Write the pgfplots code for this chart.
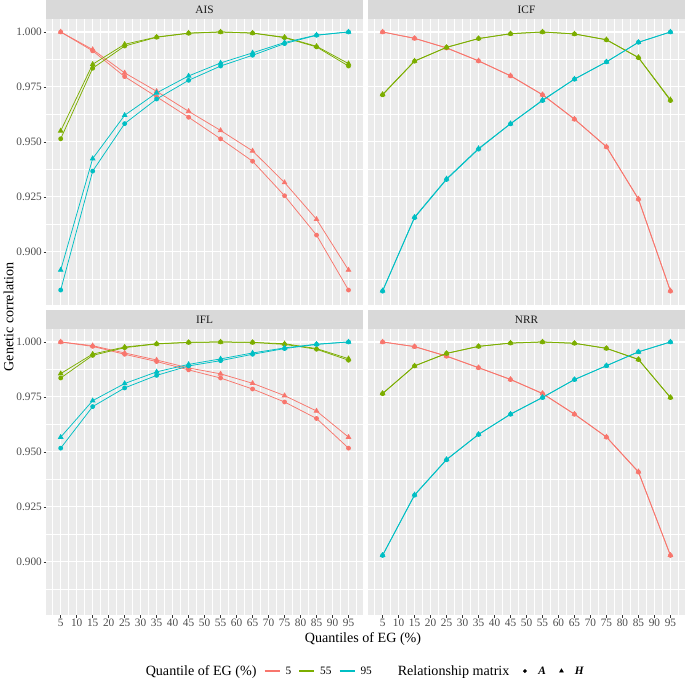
\documentclass[border=0pt]{standalone}
\usepackage{pgfplots}
\pgfplotsset{compat=1.18}
\usepackage{pgfplotstable}
\usepackage{fontspec}
\setmainfont{Liberation Serif}

\definecolor{redq}{HTML}{F8766D}
\definecolor{greenq}{HTML}{7CAE00}
\definecolor{cyanq}{HTML}{00BFC4}
\definecolor{panelbg}{HTML}{EBEBEB}
\definecolor{stripbg}{HTML}{D9D9D9}
\definecolor{striptext}{HTML}{1A1A1A}
\definecolor{tickcol}{HTML}{333333}
\definecolor{ticklab}{HTML}{4D4D4D}

\pgfplotstableread{
q  rA     rH     gA     gH     cA     cH
5  1.0000 1.0000 0.9514 0.9550 0.8826 0.8917
15 0.9914 0.9920 0.9835 0.9853 0.9367 0.9424
25 0.9797 0.9814 0.9936 0.9944 0.9583 0.9621
35 0.9705 0.9730 0.9976 0.9977 0.9695 0.9723
45 0.9612 0.9639 0.9994 0.9995 0.9780 0.9800
55 0.9514 0.9552 1.0000 1.0000 0.9845 0.9859
65 0.9412 0.9459 0.9995 0.9995 0.9894 0.9905
75 0.9255 0.9315 0.9974 0.9976 0.9947 0.9952
85 0.9076 0.9148 0.9932 0.9935 0.9985 0.9986
95 0.8826 0.8917 0.9845 0.9856 1.0000 1.0000
}\AIS

\pgfplotstableread{
q  rA     rH     gA     gH     cA     cH
5  1.0000 1.0000 0.9714 0.9716 0.8821 0.8823
15 0.9971 0.9971 0.9867 0.9868 0.9155 0.9158
25 0.9927 0.9928 0.9930 0.9930 0.9329 0.9332
35 0.9868 0.9869 0.9970 0.9970 0.9467 0.9470
45 0.9800 0.9801 0.9992 0.9992 0.9582 0.9583
55 0.9714 0.9715 1.0000 1.0000 0.9688 0.9690
65 0.9603 0.9604 0.9991 0.9991 0.9785 0.9786
75 0.9477 0.9478 0.9964 0.9965 0.9864 0.9864
85 0.9239 0.9241 0.9883 0.9884 0.9953 0.9953
95 0.8821 0.8823 0.9688 0.9692 1.0000 1.0000
}\ICF

\pgfplotstableread{
q  rA     rH     gA     gH     cA     cH
5  1.0000 1.0000 0.9836 0.9856 0.9517 0.9567
15 0.9980 0.9983 0.9939 0.9945 0.9706 0.9733
25 0.9944 0.9950 0.9974 0.9977 0.9791 0.9811
35 0.9911 0.9918 0.9991 0.9992 0.9848 0.9864
45 0.9873 0.9882 0.9998 0.9998 0.9891 0.9898
55 0.9836 0.9855 1.0000 1.0000 0.9915 0.9923
65 0.9786 0.9812 0.9998 0.9998 0.9944 0.9950
75 0.9727 0.9756 0.9989 0.9992 0.9970 0.9973
85 0.9652 0.9686 0.9967 0.9970 0.9989 0.9990
95 0.9517 0.9567 0.9917 0.9924 1.0000 1.0000
}\IFL

\pgfplotstableread{
q  rA     rH     gA     gH     cA     cH
5  1.0000 1.0000 0.9765 0.9766 0.9029 0.9030
15 0.9979 0.9979 0.9891 0.9891 0.9303 0.9305
25 0.9935 0.9936 0.9948 0.9948 0.9464 0.9466
35 0.9883 0.9883 0.9980 0.9980 0.9579 0.9580
45 0.9829 0.9830 0.9995 0.9995 0.9671 0.9672
55 0.9765 0.9766 1.0000 1.0000 0.9747 0.9748
65 0.9671 0.9672 0.9994 0.9994 0.9829 0.9829
75 0.9567 0.9568 0.9971 0.9971 0.9892 0.9892
85 0.9408 0.9410 0.9920 0.9921 0.9955 0.9955
95 0.9029 0.9030 0.9747 0.9748 1.0000 1.0000
}\NRR

\pgfplotsset{
  panel/.style={
    scale only axis, width=316.6pt, height=286pt,
    xmin=0.5, xmax=99.5, ymin=0.8758, ymax=1.0059,
    axis background/.style={fill=panelbg},
    axis line style={draw=none},
    xmajorgrids, ymajorgrids, xminorgrids, yminorgrids,
    major grid style={white, line width=1.1pt},
    minor grid style={white, line width=0.55pt},
    xtick={5,10,...,95},
    minor xtick={2.5,7.5,...,97.5},
    ytick={0.9,0.925,0.95,0.975,1.0},
    minor ytick={0.8875,0.9125,0.9375,0.9625,0.9875},
    tick align=outside, xtick pos=bottom, ytick pos=left,
    major tick length=2.75pt, minor tick length=0pt,
    tick style={color=tickcol, line width=0.5pt},
    tick label style={font=\fontsize{11.3}{12}\selectfont, text=ticklab},
    xticklabel style={inner sep=1.5pt},
    yticklabel style={inner sep=1.5pt, /pgf/number format/.cd, fixed, fixed zerofill, precision=3},
    /pgf/number format/assume math mode=true,
    clip=false,
  },
  notx/.style={xticklabels={}, xtick style={draw=none}},
  noty/.style={yticklabels={}, ytick style={draw=none}},
}

\newcommand{\keyspace}{\pgfpathrectangle{\pgfpoint{0pt}{-1pt}}{\pgfpoint{17pt}{2pt}}\pgfusepath{}}

\newcommand{\panelplots}[2]{%
  \addplot[redq, line width=0.75pt, mark=*, mark size=2pt, forget plot] table[x=q,y=rA]{#1};
  \addplot[redq, line width=0.75pt, mark=triangle*, mark size=2.6pt, forget plot] table[x=q,y=rH]{#1};
  \addplot[greenq, line width=0.75pt, mark=*, mark size=2pt, forget plot] table[x=q,y=gA]{#1};
  \addplot[greenq, line width=0.75pt, mark=triangle*, mark size=2.6pt, forget plot] table[x=q,y=gH]{#1};
  \addplot[cyanq, line width=0.75pt, mark=*, mark size=2pt, forget plot] table[x=q,y=cA]{#1};
  \addplot[cyanq, line width=0.75pt, mark=triangle*, mark size=2.6pt, forget plot] table[x=q,y=cH]{#1};
  \fill[stripbg] (rel axis cs:0,1) rectangle ([yshift=19pt]rel axis cs:1,1);
  \node[text=striptext, font=\fontsize{11.3}{12}\selectfont] at ([yshift=9.5pt]rel axis cs:0.5,1) {#2};
}

\begin{document}
\begin{tikzpicture}
\useasboundingbox (0pt,0pt) rectangle (685pt,678pt);

\begin{axis}[panel, notx, at={(46.3pt,373pt)}, anchor=south west]
  \panelplots{\AIS}{AIS}
\end{axis}

\begin{axis}[panel, notx, noty, at={(368.2pt,373pt)}, anchor=south west]
  \panelplots{\ICF}{ICF}
\end{axis}

\begin{axis}[panel, at={(46.3pt,63pt)}, anchor=south west,
  legend columns=-1,
  legend style={at={(axis description cs:1.0,-0.196)}, anchor=center,
    draw=none, fill=none, font=\fontsize{11.3}{12}\selectfont,
    nodes={inner sep=1pt},
    /tikz/every even column/.append style={column sep=6pt},
    /tikz/every odd column/.append style={column sep=4pt}},
  ]
  \panelplots{\IFL}{IFL}
  \addlegendimage{empty legend}
  \addlegendentry{\fontsize{14.1}{15}\selectfont Quantile of EG (\%)}
  \addlegendimage{redq, line width=1.4pt, legend image code/.code={\keyspace \draw (1pt,0pt) -- (16pt,0pt);}}
  \addlegendentry{5}
  \addlegendimage{greenq, line width=1.4pt, legend image code/.code={\keyspace \draw (1pt,0pt) -- (16pt,0pt);}}
  \addlegendentry{55}
  \addlegendimage{cyanq, line width=1.4pt, legend image code/.code={\keyspace \draw (1pt,0pt) -- (16pt,0pt);}}
  \addlegendentry{95}
  \addlegendimage{empty legend}
  \addlegendentry{\hspace{14pt}\fontsize{14.1}{15}\selectfont Relationship matrix}
  \addlegendimage{black, only marks, mark=*, mark size=1.7pt, legend image code/.code={\keyspace \draw plot coordinates {(8.5pt,0pt)};}}
  \addlegendentry{\textbf{\textit{A}}}
  \addlegendimage{black, only marks, mark=triangle*, mark size=2.3pt, legend image code/.code={\keyspace \draw plot coordinates {(8.5pt,0pt)};}}
  \addlegendentry{\textbf{\textit{H}}}
\end{axis}

\begin{axis}[panel, noty, at={(368.2pt,63pt)}, anchor=south west]
  \panelplots{\NRR}{NRR}
\end{axis}

\node[rotate=90, font=\fontsize{14.1}{15}\selectfont] at (8.5pt,361pt) {Genetic correlation};
\node[font=\fontsize{14.1}{15}\selectfont] at (363pt,39pt) {Quantiles of EG (\%)};
\end{tikzpicture}
\end{document}
